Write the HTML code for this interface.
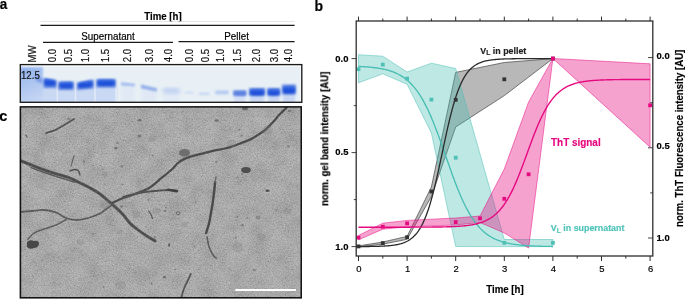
<!DOCTYPE html>
<html><head><meta charset="utf-8"><style>
html,body{margin:0;padding:0;background:#fff;}
body{width:685px;height:299px;overflow:hidden;font-family:"Liberation Sans", sans-serif;}
svg{display:block;will-change:transform;}
</style></head><body>
<svg width="685" height="299" viewBox="0 0 685 299" font-family='"Liberation Sans", sans-serif'><text transform="translate(-0.2,8.7) scale(0.95,1)" font-size="14.2" font-weight="bold" fill="#000" stroke="#000" stroke-width="0.18" text-anchor="start" >a</text>
<text transform="translate(163,19.6) scale(0.965,1)" font-size="10" font-weight="bold" fill="#000" stroke="#000" stroke-width="0.18" text-anchor="middle" >Time [h]</text>
<line x1="40.5" y1="21.4" x2="294.6" y2="21.4" stroke="#dcdcdc" stroke-width="0.8" />
<line x1="40.5" y1="25.3" x2="294.6" y2="25.3" stroke="#1a1a1a" stroke-width="1.3" />
<text transform="translate(108,39.7) scale(0.965,1)" font-size="10.2" font-weight="normal" fill="#000" stroke="#000" stroke-width="0.18" text-anchor="middle" >Supernatant</text>
<text transform="translate(236.6,40) scale(0.965,1)" font-size="10.2" font-weight="normal" fill="#000" stroke="#000" stroke-width="0.18" text-anchor="middle" >Pellet</text>
<line x1="43" y1="42.3" x2="173" y2="42.3" stroke="#1a1a1a" stroke-width="1.3" />
<line x1="178.5" y1="41.7" x2="294.6" y2="41.7" stroke="#1a1a1a" stroke-width="1.3" />
<text transform="translate(35.6,62.5) rotate(-90) scale(0.965,1)" font-size="10" font-weight="normal" fill="#111" stroke="#111" stroke-width="0.18" text-anchor="start" >MW</text>
<text transform="translate(56.0,62.2) rotate(-90) scale(0.965,1)" font-size="10" font-weight="normal" fill="#111" stroke="#111" stroke-width="0.18" text-anchor="start" >0.0</text>
<text transform="translate(71.8,62.2) rotate(-90) scale(0.965,1)" font-size="10" font-weight="normal" fill="#111" stroke="#111" stroke-width="0.18" text-anchor="start" >0.5</text>
<text transform="translate(89.3,62.2) rotate(-90) scale(0.965,1)" font-size="10" font-weight="normal" fill="#111" stroke="#111" stroke-width="0.18" text-anchor="start" >1.0</text>
<text transform="translate(109.19999999999999,62.2) rotate(-90) scale(0.965,1)" font-size="10" font-weight="normal" fill="#111" stroke="#111" stroke-width="0.18" text-anchor="start" >1.5</text>
<text transform="translate(130.8,62.2) rotate(-90) scale(0.965,1)" font-size="10" font-weight="normal" fill="#111" stroke="#111" stroke-width="0.18" text-anchor="start" >2.0</text>
<text transform="translate(152.79999999999998,62.2) rotate(-90) scale(0.965,1)" font-size="10" font-weight="normal" fill="#111" stroke="#111" stroke-width="0.18" text-anchor="start" >3.0</text>
<text transform="translate(172.0,62.2) rotate(-90) scale(0.965,1)" font-size="10" font-weight="normal" fill="#111" stroke="#111" stroke-width="0.18" text-anchor="start" >4.0</text>
<text transform="translate(192.6,62.2) rotate(-90) scale(0.965,1)" font-size="10" font-weight="normal" fill="#111" stroke="#111" stroke-width="0.18" text-anchor="start" >0.0</text>
<text transform="translate(209.4,62.2) rotate(-90) scale(0.965,1)" font-size="10" font-weight="normal" fill="#111" stroke="#111" stroke-width="0.18" text-anchor="start" >0.5</text>
<text transform="translate(224.4,62.2) rotate(-90) scale(0.965,1)" font-size="10" font-weight="normal" fill="#111" stroke="#111" stroke-width="0.18" text-anchor="start" >1.0</text>
<text transform="translate(241.2,62.2) rotate(-90) scale(0.965,1)" font-size="10" font-weight="normal" fill="#111" stroke="#111" stroke-width="0.18" text-anchor="start" >1.5</text>
<text transform="translate(259.8,62.2) rotate(-90) scale(0.965,1)" font-size="10" font-weight="normal" fill="#111" stroke="#111" stroke-width="0.18" text-anchor="start" >2.0</text>
<text transform="translate(278.0,62.2) rotate(-90) scale(0.965,1)" font-size="10" font-weight="normal" fill="#111" stroke="#111" stroke-width="0.18" text-anchor="start" >3.0</text>
<text transform="translate(291.8,62.2) rotate(-90) scale(0.965,1)" font-size="10" font-weight="normal" fill="#111" stroke="#111" stroke-width="0.18" text-anchor="start" >4.0</text>
<defs>
<filter id="blur1" x="-50%" y="-50%" width="200%" height="200%"><feGaussianBlur stdDeviation="1.2"/></filter>
<filter id="blur2" x="-50%" y="-50%" width="200%" height="200%"><feGaussianBlur stdDeviation="2"/></filter>
<filter id="blur05" x="-50%" y="-50%" width="200%" height="200%"><feGaussianBlur stdDeviation="0.6"/></filter>
<filter id="blur09" x="-50%" y="-50%" width="200%" height="200%"><feGaussianBlur stdDeviation="1.05"/></filter>
<clipPath id="gelclip"><rect x="20.5" y="65.5" width="280.3" height="36.5"/></clipPath>
<clipPath id="emclip"><rect x="21" y="107.5" width="279.5" height="190"/></clipPath>
<filter id="noise" x="0" y="0" width="100%" height="100%" filterUnits="objectBoundingBox"><feTurbulence type="fractalNoise" baseFrequency="0.75" numOctaves="2" seed="7" result="t"/><feColorMatrix in="t" type="matrix" values="1 0 0 0 0  1 0 0 0 0  1 0 0 0 0  0 0 0 0 1"/></filter>
<filter id="mottle" x="0" y="0" width="100%" height="100%" filterUnits="objectBoundingBox"><feTurbulence type="fractalNoise" baseFrequency="0.06" numOctaves="3" seed="11" result="t"/><feColorMatrix in="t" type="matrix" values="1 0 0 0 0  1 0 0 0 0  1 0 0 0 0  0 0 0 0 1"/></filter>
<filter id="fb" x="-20%" y="-20%" width="140%" height="140%"><feGaussianBlur stdDeviation="0.7"/></filter>
<linearGradient id="bandg" x1="0" y1="0" x2="0" y2="1"><stop offset="0" stop-color="#3f6fe2"/><stop offset="0.5" stop-color="#1c50dc"/><stop offset="1" stop-color="#1a49d2"/></linearGradient>
<linearGradient id="mwg" x1="0" y1="0" x2="0.3" y2="1"><stop offset="0" stop-color="#8eafec"/><stop offset="0.45" stop-color="#a9c2f0"/><stop offset="1" stop-color="#c4d5f3"/></linearGradient>
</defs>
<g clip-path="url(#gelclip)">
<rect x="20" y="64.5" width="282" height="38" fill="#fbfdfe"/><rect x="20" y="66.6" width="280.6" height="36" fill="#e8f0f5"/>
<rect x="18" y="83" width="99" height="22" fill="#c9d8f3" filter="url(#blur1)"/>
<rect x="18" y="67.2" width="25" height="37" fill="url(#mwg)" filter="url(#blur1)"/>
<path d="M34,74 L42,78 L43,84 L36,81 Z" fill="#7f9fe6" filter="url(#blur1)"/>
<rect x="56.5" y="80" width="1.6" height="25" fill="#e2eaf8" filter="url(#blur05)"/>
<rect x="74.7" y="80" width="1.6" height="25" fill="#e2eaf8" filter="url(#blur05)"/>
<rect x="94.2" y="80" width="1.6" height="25" fill="#e2eaf8" filter="url(#blur05)"/>
<rect x="115.2" y="80" width="1.6" height="25" fill="#e2eaf8" filter="url(#blur05)"/>
<rect x="121" y="87" width="13.599999999999994" height="17" fill="#e1e9f5" filter="url(#blur1)"/>
<rect x="141.4" y="91" width="15.0" height="13" fill="#e0e8f5" filter="url(#blur1)"/>
<rect x="163" y="93" width="16" height="11" fill="#e2eaf5" filter="url(#blur1)"/>
<rect x="234.2" y="95" width="11.200000000000017" height="9" fill="#d3def4" filter="url(#blur1)"/>
<rect x="250.1" y="95" width="13.900000000000006" height="9" fill="#c9d7f3" filter="url(#blur1)"/>
<rect x="268.2" y="95" width="11.100000000000023" height="9" fill="#c9d7f3" filter="url(#blur1)"/>
<rect x="282.9" y="93" width="12.100000000000023" height="11" fill="#c9d7f3" filter="url(#blur1)"/>
<path d="M43.5,78 L56.5,80 L56.5,88 L43.5,88 Z" fill="#5f84e0" opacity="1" filter="url(#blur1)"/>
<path d="M58.4,81.5 L73.6,81.5 L73.6,90 L58.4,90 Z" fill="#5f84e0" opacity="1" filter="url(#blur1)"/>
<path d="M77.1,82.5 L93.5,79.5 L93.5,88.5 L77.1,90 Z" fill="#5f84e0" opacity="1" filter="url(#blur1)"/>
<path d="M96.4,79 L115.7,79 L115.7,87.5 L96.4,87.5 Z" fill="#5f84e0" opacity="1" filter="url(#blur1)"/>
<path d="M47.3,78.88 L52.8,80.12 Q55.8,80.8 55.8,83.8 L55.8,82.6 Q55.8,85.6 52.8,85.60 L47.3,85.60 Q44.3,85.6 44.3,82.6 L44.3,81.2 Q44.3,78.2 47.3,78.88 Z" fill="url(#bandg)" opacity="1" filter="url(#blur09)"/>
<path d="M62.3,82.16 L69.8,82.04 Q72.8,82.0 72.8,85.0 L72.8,85.0 Q72.8,88.0 69.8,88.00 L62.3,88.00 Q59.3,88.0 59.3,85.0 L59.3,85.2 Q59.3,82.2 62.3,82.16 Z" fill="url(#bandg)" opacity="1" filter="url(#blur09)"/>
<path d="M81.0,82.59 L89.7,80.81 Q92.7,80.2 92.7,83.2 L92.7,83.6 Q92.7,86.6 89.7,86.89 L81.0,87.71 Q78.0,88.0 78.0,85.0 L78.0,86.2 Q78.0,83.2 81.0,82.59 Z" fill="url(#bandg)" opacity="1" filter="url(#blur09)"/>
<path d="M100.3,79.77 L111.9,79.63 Q114.9,79.6 114.9,82.6 L114.9,82.8 Q114.9,85.8 111.9,85.80 L100.3,85.80 Q97.3,85.8 97.3,82.8 L97.3,82.8 Q97.3,79.8 100.3,79.77 Z" fill="url(#bandg)" opacity="1" filter="url(#blur09)"/>
<path d="M121,82.3 L135,83.8 L135,86.5 L121,85.5 Z" fill="#a3bbee" opacity="1" filter="url(#blur1)"/>
<path d="M141,84.5 L157,88.3 L157,91.7 L141,88.5 Z" fill="#93afea" opacity="1" filter="url(#blur1)"/>
<path d="M163,88.5 L179.5,89 L179.5,93 L163,92.5 Z" fill="#b0c5f0" opacity="1" filter="url(#blur2)"/>
<path d="M185,91.5 L193.5,91.5 L193.5,93.8 L185,93.8 Z" fill="#cfdbf4" opacity="1" filter="url(#blur1)"/>
<path d="M199,92.5 L209.6,92.5 L209.6,95 L199,95 Z" fill="#c8d6f3" opacity="1" filter="url(#blur1)"/>
<path d="M215.3,90.5 L228.6,90.5 L228.6,94.3 L215.3,94.3 Z" fill="#b5c8f0" opacity="1" filter="url(#blur1)"/>
<path d="M233.2,90.3 L246.4,90.3 L246.4,95.8 L233.2,95.8 Z" fill="#6d8fe3" opacity="1" filter="url(#blur1)"/>
<path d="M249.1,88.1 L265,88.1 L265,95.8 L249.1,95.8 Z" fill="#5a80e0" opacity="1" filter="url(#blur1)"/>
<path d="M267.2,88.1 L280.3,88.1 L280.3,95.8 L267.2,95.8 Z" fill="#5a80e0" opacity="1" filter="url(#blur1)"/>
<path d="M281.9,84.5 L296,84.5 L296,94.5 L281.9,94.5 Z" fill="#6d8fe3" opacity="1" filter="url(#blur1)"/>
<path d="M253.0,89.30 L261.2,89.30 Q264.2,89.3 264.2,92.3 L264.2,92.2 Q264.2,95.2 261.2,95.20 L253.0,95.20 Q250.0,95.2 250.0,92.2 L250.0,92.3 Q250.0,89.3 253.0,89.30 Z" fill="url(#bandg)" opacity="1" filter="url(#blur09)"/>
<path d="M271.0,89.30 L276.5,89.30 Q279.5,89.3 279.5,92.3 L279.5,92.2 Q279.5,95.2 276.5,95.20 L271.0,95.20 Q268.0,95.2 268.0,92.2 L268.0,92.3 Q268.0,89.3 271.0,89.30 Z" fill="url(#bandg)" opacity="1" filter="url(#blur09)"/>
<path d="M285.8,86.23 L292.2,86.07 Q295.2,86.0 295.2,89.0 L295.2,90.5 Q295.2,93.5 292.2,93.50 L285.8,93.50 Q282.8,93.5 282.8,90.5 L282.8,89.3 Q282.8,86.3 285.8,86.23 Z" fill="url(#bandg)" opacity="1" filter="url(#blur09)"/>
<path d="M235.79999999999998,91.76 L244.0,91.54 Q245.6,91.5 245.6,93.1 L245.6,93.7 Q245.6,95.3 244.0,95.30 L235.79999999999998,95.30 Q234.2,95.3 234.2,93.7 L234.2,93.39999999999999 Q234.2,91.8 235.79999999999998,91.76 Z" fill="#5b80e0" opacity="1" filter="url(#blur09)"/>
</g>
<rect x="20.3" y="64.6" width="281.5" height="37.7" fill="none" stroke="#1a1a1a" stroke-width="1.35"/>
<text transform="translate(21,79.2) scale(0.965,1)" font-size="10" font-weight="normal" fill="#111" stroke="#111" stroke-width="0.18" text-anchor="start" >12.5</text>
<text transform="translate(-0.8,120.6) scale(1.0,1)" font-size="14.5" font-weight="bold" fill="#000" stroke="#000" stroke-width="0.18" text-anchor="start" >c</text>
<g clip-path="url(#emclip)">
<rect x="20" y="106" width="282" height="193" fill="#949494"/>
<rect x="20" y="106" width="282" height="193" filter="url(#mottle)" opacity="0.24"/>
<rect x="20" y="106" width="282" height="193" filter="url(#noise)" opacity="0.38"/>
<g filter="url(#fb)" fill="none" stroke-linecap="round" stroke-linejoin="round">
<path d="M46.00,133.00 C47.68,132.43 53.08,130.93 56.10,129.60 C59.12,128.27 61.10,126.77 64.10,125.00 C67.10,123.23 72.43,120.00 74.10,119.00" stroke="#5c5c5c" stroke-width="1.8" opacity="1"/>
<path d="M46.00,133.00 C47.68,132.43 53.08,130.93 56.10,129.60 C59.12,128.27 61.10,126.77 64.10,125.00 C67.10,123.23 72.43,120.00 74.10,119.00" stroke="#3a3a3a" stroke-width="0.81" stroke-dasharray="2.5 1.5 4 2 1.5 2.5" opacity="0.45"/>
<path d="M20.00,160.50 C21.67,161.17 26.67,163.17 30.00,164.50 C33.33,165.83 36.67,167.25 40.00,168.50 C43.33,169.75 46.65,170.92 50.00,172.00 C53.35,173.08 56.75,173.97 60.10,175.00 C63.45,176.03 66.77,176.87 70.10,178.20 C73.43,179.53 76.77,181.37 80.10,183.00 C83.43,184.63 86.78,186.17 90.10,188.00 C93.42,189.83 96.68,191.58 100.00,194.00 C103.32,196.42 107.22,200.10 110.00,202.50 C112.78,204.90 114.47,206.32 116.70,208.40 C118.93,210.48 121.17,212.50 123.40,215.00 C125.63,217.50 127.60,220.88 130.10,223.40 C132.60,225.92 135.62,228.00 138.40,230.10 C141.18,232.20 144.00,234.18 146.80,236.00 C149.60,237.82 153.80,240.17 155.20,241.00" stroke="#585858" stroke-width="3.0" opacity="1"/>
<path d="M20.00,160.50 C21.67,161.17 26.67,163.17 30.00,164.50 C33.33,165.83 36.67,167.25 40.00,168.50 C43.33,169.75 46.65,170.92 50.00,172.00 C53.35,173.08 56.75,173.97 60.10,175.00 C63.45,176.03 66.77,176.87 70.10,178.20 C73.43,179.53 76.77,181.37 80.10,183.00 C83.43,184.63 86.78,186.17 90.10,188.00 C93.42,189.83 96.68,191.58 100.00,194.00 C103.32,196.42 107.22,200.10 110.00,202.50 C112.78,204.90 114.47,206.32 116.70,208.40 C118.93,210.48 121.17,212.50 123.40,215.00 C125.63,217.50 127.60,220.88 130.10,223.40 C132.60,225.92 135.62,228.00 138.40,230.10 C141.18,232.20 144.00,234.18 146.80,236.00 C149.60,237.82 153.80,240.17 155.20,241.00" stroke="#3a3a3a" stroke-width="1.35" stroke-dasharray="2.5 1.5 4 2 1.5 2.5" opacity="0.45"/>
<path d="M31.00,167.50 C33.33,168.38 40.17,171.12 45.00,172.80 C49.83,174.48 55.00,176.00 60.00,177.60 C65.00,179.20 72.50,181.60 75.00,182.40" stroke="#606060" stroke-width="1.3" opacity="1"/>
<path d="M31.00,167.50 C33.33,168.38 40.17,171.12 45.00,172.80 C49.83,174.48 55.00,176.00 60.00,177.60 C65.00,179.20 72.50,181.60 75.00,182.40" stroke="#3a3a3a" stroke-width="0.80" stroke-dasharray="2.5 1.5 4 2 1.5 2.5" opacity="0.45"/>
<path d="M287.00,106.50 C286.70,106.92 286.52,107.58 285.20,109.00 C283.88,110.42 281.12,112.83 279.10,115.00 C277.08,117.17 275.27,119.65 273.10,122.00 C270.93,124.35 268.43,127.08 266.10,129.10 C263.77,131.12 261.60,132.43 259.10,134.10 C256.60,135.77 254.12,137.60 251.10,139.10 C248.08,140.60 244.02,141.93 241.00,143.10 C237.98,144.27 235.67,145.20 233.00,146.10 C230.33,147.00 227.82,147.83 225.00,148.50 C222.18,149.17 219.58,149.33 216.10,150.10 C212.62,150.87 208.10,152.10 204.10,153.10 C200.10,154.10 195.45,155.10 192.10,156.10 C188.75,157.10 186.35,157.95 184.00,159.10 C181.65,160.25 180.13,161.18 178.00,163.00 C175.87,164.82 174.35,167.17 171.20,170.00 C168.05,172.83 162.78,177.00 159.10,180.00 C155.42,183.00 153.10,185.67 149.10,188.00 C145.10,190.33 139.43,192.33 135.10,194.00 C130.77,195.67 126.95,196.50 123.10,198.00 C119.25,199.50 113.85,202.17 112.00,203.00" stroke="#525252" stroke-width="2.3" opacity="1"/>
<path d="M287.00,106.50 C286.70,106.92 286.52,107.58 285.20,109.00 C283.88,110.42 281.12,112.83 279.10,115.00 C277.08,117.17 275.27,119.65 273.10,122.00 C270.93,124.35 268.43,127.08 266.10,129.10 C263.77,131.12 261.60,132.43 259.10,134.10 C256.60,135.77 254.12,137.60 251.10,139.10 C248.08,140.60 244.02,141.93 241.00,143.10 C237.98,144.27 235.67,145.20 233.00,146.10 C230.33,147.00 227.82,147.83 225.00,148.50 C222.18,149.17 219.58,149.33 216.10,150.10 C212.62,150.87 208.10,152.10 204.10,153.10 C200.10,154.10 195.45,155.10 192.10,156.10 C188.75,157.10 186.35,157.95 184.00,159.10 C181.65,160.25 180.13,161.18 178.00,163.00 C175.87,164.82 174.35,167.17 171.20,170.00 C168.05,172.83 162.78,177.00 159.10,180.00 C155.42,183.00 153.10,185.67 149.10,188.00 C145.10,190.33 139.43,192.33 135.10,194.00 C130.77,195.67 126.95,196.50 123.10,198.00 C119.25,199.50 113.85,202.17 112.00,203.00" stroke="#3a3a3a" stroke-width="1.03" stroke-dasharray="2.5 1.5 4 2 1.5 2.5" opacity="0.45"/>
<path d="M123.10,197.00 C125.77,196.33 133.77,194.00 139.10,193.00 C144.43,192.00 149.95,191.50 155.10,191.00 C160.25,190.50 166.35,190.00 170.00,190.00 C173.65,190.00 175.83,190.83 177.00,191.00" stroke="#5a5a5a" stroke-width="2.0" opacity="1"/>
<path d="M123.10,197.00 C125.77,196.33 133.77,194.00 139.10,193.00 C144.43,192.00 149.95,191.50 155.10,191.00 C160.25,190.50 166.35,190.00 170.00,190.00 C173.65,190.00 175.83,190.83 177.00,191.00" stroke="#3a3a3a" stroke-width="0.90" stroke-dasharray="2.5 1.5 4 2 1.5 2.5" opacity="0.45"/>
<path d="M168.00,189.80 C169.50,190.02 175.50,190.88 177.00,191.10" stroke="#444" stroke-width="2.6" opacity="1"/>
<path d="M168.00,189.80 C169.50,190.02 175.50,190.88 177.00,191.10" stroke="#3a3a3a" stroke-width="1.17" stroke-dasharray="2.5 1.5 4 2 1.5 2.5" opacity="0.45"/>
<path d="M112.00,205.00 C110.83,205.83 107.00,208.58 105.00,210.00 C103.00,211.42 102.82,212.17 100.00,213.50 C97.18,214.83 92.08,216.92 88.10,218.00 C84.12,219.08 79.77,220.00 76.10,220.00 C72.43,220.00 69.43,219.25 66.10,218.00 C62.77,216.75 59.78,213.83 56.10,212.50 C52.42,211.17 48.02,210.25 44.00,210.00 C39.98,209.75 36.00,210.67 32.00,211.00 C28.00,211.33 22.00,211.83 20.00,212.00" stroke="#646464" stroke-width="1.8" opacity="1"/>
<path d="M112.00,205.00 C110.83,205.83 107.00,208.58 105.00,210.00 C103.00,211.42 102.82,212.17 100.00,213.50 C97.18,214.83 92.08,216.92 88.10,218.00 C84.12,219.08 79.77,220.00 76.10,220.00 C72.43,220.00 69.43,219.25 66.10,218.00 C62.77,216.75 59.78,213.83 56.10,212.50 C52.42,211.17 48.02,210.25 44.00,210.00 C39.98,209.75 36.00,210.67 32.00,211.00 C28.00,211.33 22.00,211.83 20.00,212.00" stroke="#3a3a3a" stroke-width="0.81" stroke-dasharray="2.5 1.5 4 2 1.5 2.5" opacity="0.45"/>
<path d="M66.10,219.50 C64.43,220.42 59.78,223.40 56.10,225.00 C52.42,226.60 47.68,227.75 44.00,229.10 C40.32,230.45 36.67,231.43 34.00,233.10 C31.33,234.77 29.00,238.10 28.00,239.10" stroke="#686868" stroke-width="1.6" opacity="1"/>
<path d="M66.10,219.50 C64.43,220.42 59.78,223.40 56.10,225.00 C52.42,226.60 47.68,227.75 44.00,229.10 C40.32,230.45 36.67,231.43 34.00,233.10 C31.33,234.77 29.00,238.10 28.00,239.10" stroke="#3a3a3a" stroke-width="0.80" stroke-dasharray="2.5 1.5 4 2 1.5 2.5" opacity="0.45"/>
<path d="M215.10,182.00 C214.93,183.68 214.53,188.42 214.10,192.10 C213.67,195.78 213.00,200.77 212.50,204.10 C212.00,207.43 211.67,208.95 211.10,212.10 C210.53,215.25 209.93,219.52 209.10,223.00 C208.27,226.48 206.60,231.33 206.10,233.00" stroke="#4e4e4e" stroke-width="2.4" opacity="1"/>
<path d="M215.10,182.00 C214.93,183.68 214.53,188.42 214.10,192.10 C213.67,195.78 213.00,200.77 212.50,204.10 C212.00,207.43 211.67,208.95 211.10,212.10 C210.53,215.25 209.93,219.52 209.10,223.00 C208.27,226.48 206.60,231.33 206.10,233.00" stroke="#3a3a3a" stroke-width="1.08" stroke-dasharray="2.5 1.5 4 2 1.5 2.5" opacity="0.45"/>
<path d="M207.10,237.00 C207.43,238.68 208.10,244.08 209.10,247.10 C210.10,250.12 211.93,253.27 213.10,255.10 C214.27,256.93 215.60,257.60 216.10,258.10" stroke="#666" stroke-width="1.6" opacity="1"/>
<path d="M207.10,237.00 C207.43,238.68 208.10,244.08 209.10,247.10 C210.10,250.12 211.93,253.27 213.10,255.10 C214.27,256.93 215.60,257.60 216.10,258.10" stroke="#3a3a3a" stroke-width="0.80" stroke-dasharray="2.5 1.5 4 2 1.5 2.5" opacity="0.45"/>
<path d="M216.00,177.00 C215.85,177.83 215.25,181.17 215.10,182.00" stroke="#777" stroke-width="1.4" opacity="1"/>
<path d="M216.00,177.00 C215.85,177.83 215.25,181.17 215.10,182.00" stroke="#3a3a3a" stroke-width="0.80" stroke-dasharray="2.5 1.5 4 2 1.5 2.5" opacity="0.45"/>
<path d="M181.60,297.00 C181.90,295.87 182.65,292.38 183.40,290.20 C184.15,288.02 185.18,285.87 186.10,283.90 C187.02,281.93 188.13,280.07 188.90,278.40 C189.67,276.73 190.40,274.65 190.70,273.90" stroke="#5a5a5a" stroke-width="1.8" opacity="1"/>
<path d="M181.60,297.00 C181.90,295.87 182.65,292.38 183.40,290.20 C184.15,288.02 185.18,285.87 186.10,283.90 C187.02,281.93 188.13,280.07 188.90,278.40 C189.67,276.73 190.40,274.65 190.70,273.90" stroke="#3a3a3a" stroke-width="0.81" stroke-dasharray="2.5 1.5 4 2 1.5 2.5" opacity="0.45"/>
<path d="M148.70,211.00 C149.08,211.58 150.37,213.25 151.00,214.50 C151.63,215.75 152.25,217.83 152.50,218.50" stroke="#6a6a6a" stroke-width="1.2" opacity="1"/>
<path d="M148.70,211.00 C149.08,211.58 150.37,213.25 151.00,214.50 C151.63,215.75 152.25,217.83 152.50,218.50" stroke="#3a3a3a" stroke-width="0.80" stroke-dasharray="2.5 1.5 4 2 1.5 2.5" opacity="0.45"/>
<path d="M74.00,156.00 C73.75,156.83 73.00,159.33 72.50,161.00 C72.00,162.67 71.25,165.17 71.00,166.00" stroke="#707070" stroke-width="1.1" opacity="1"/>
<path d="M74.00,156.00 C73.75,156.83 73.00,159.33 72.50,161.00 C72.00,162.67 71.25,165.17 71.00,166.00" stroke="#3a3a3a" stroke-width="0.80" stroke-dasharray="2.5 1.5 4 2 1.5 2.5" opacity="0.45"/>
<path d="M70.00,171.00 C70.83,170.75 73.58,169.50 75.00,169.50 C76.42,169.50 77.67,170.08 78.50,171.00 C79.33,171.92 79.75,174.33 80.00,175.00" stroke="#555" stroke-width="1.3" opacity="1"/>
<path d="M70.00,171.00 C70.83,170.75 73.58,169.50 75.00,169.50 C76.42,169.50 77.67,170.08 78.50,171.00 C79.33,171.92 79.75,174.33 80.00,175.00" stroke="#3a3a3a" stroke-width="0.80" stroke-dasharray="2.5 1.5 4 2 1.5 2.5" opacity="0.45"/>
<path d="M26.00,135.00 C26.17,135.33 26.83,136.67 27.00,137.00" stroke="#7a7a7a" stroke-width="1.5" opacity="1"/>
<path d="M26.00,135.00 C26.17,135.33 26.83,136.67 27.00,137.00" stroke="#3a3a3a" stroke-width="0.80" stroke-dasharray="2.5 1.5 4 2 1.5 2.5" opacity="0.45"/>
</g>
<g filter="url(#fb)">
<ellipse cx="194.4" cy="246.5" rx="0.94" ry="1.14" fill="rgb(128,128,128)" opacity="0.8"/>
<ellipse cx="151.6" cy="283.6" rx="0.91" ry="1.02" fill="rgb(105,105,105)" opacity="0.8"/>
<ellipse cx="152.6" cy="155.4" rx="0.76" ry="0.94" fill="rgb(110,110,110)" opacity="0.8"/>
<ellipse cx="84.0" cy="161.4" rx="1.14" ry="1.23" fill="rgb(119,119,119)" opacity="0.8"/>
<ellipse cx="241.8" cy="135.5" rx="0.90" ry="0.99" fill="rgb(103,103,103)" opacity="0.8"/>
<ellipse cx="289.5" cy="111.0" rx="1.68" ry="1.12" fill="rgb(105,105,105)" opacity="0.8"/>
<ellipse cx="103.7" cy="286.9" rx="0.88" ry="0.93" fill="rgb(108,108,108)" opacity="0.8"/>
<ellipse cx="288.4" cy="146.2" rx="1.32" ry="1.27" fill="rgb(119,119,119)" opacity="0.8"/>
<ellipse cx="123.2" cy="140.5" rx="0.66" ry="0.62" fill="rgb(99,99,99)" opacity="0.8"/>
<ellipse cx="247.3" cy="217.8" rx="0.83" ry="0.98" fill="rgb(116,116,116)" opacity="0.8"/>
<ellipse cx="121.7" cy="166.3" rx="1.25" ry="1.06" fill="rgb(106,106,106)" opacity="0.8"/>
<ellipse cx="216.7" cy="120.5" rx="2.00" ry="1.28" fill="rgb(96,96,96)" opacity="0.8"/>
<ellipse cx="122.3" cy="184.4" rx="1.03" ry="0.94" fill="rgb(121,121,121)" opacity="0.8"/>
<ellipse cx="182.4" cy="111.7" rx="0.70" ry="0.54" fill="rgb(106,106,106)" opacity="0.8"/>
<ellipse cx="284.6" cy="131.9" rx="0.75" ry="0.70" fill="rgb(124,124,124)" opacity="0.8"/>
<ellipse cx="121.5" cy="206.5" rx="1.43" ry="1.12" fill="rgb(101,101,101)" opacity="0.8"/>
<ellipse cx="237.4" cy="177.6" rx="1.15" ry="0.74" fill="rgb(122,122,122)" opacity="0.8"/>
<ellipse cx="49.8" cy="172.7" rx="1.06" ry="0.99" fill="rgb(104,104,104)" opacity="0.8"/>
<ellipse cx="276.4" cy="210.3" rx="0.78" ry="0.75" fill="rgb(115,115,115)" opacity="0.8"/>
<ellipse cx="242.3" cy="225.3" rx="1.72" ry="1.08" fill="rgb(114,114,114)" opacity="0.8"/>
<ellipse cx="68.9" cy="118.9" rx="1.98" ry="1.29" fill="rgb(129,129,129)" opacity="0.8"/>
<ellipse cx="33.7" cy="246.3" rx="0.90" ry="0.78" fill="rgb(111,111,111)" opacity="0.8"/>
<ellipse cx="139.7" cy="120.3" rx="1.78" ry="1.23" fill="rgb(97,97,97)" opacity="0.8"/>
<ellipse cx="115.9" cy="148.1" rx="1.68" ry="1.29" fill="rgb(103,103,103)" opacity="0.8"/>
<ellipse cx="239.3" cy="129.6" rx="0.72" ry="0.85" fill="rgb(104,104,104)" opacity="0.8"/>
<ellipse cx="139.4" cy="136.0" rx="1.96" ry="1.24" fill="rgb(105,105,105)" opacity="0.8"/>
<ellipse cx="148.4" cy="199.8" rx="1.10" ry="1.08" fill="rgb(125,125,125)" opacity="0.8"/>
<ellipse cx="152.9" cy="275.9" rx="0.93" ry="0.59" fill="rgb(129,129,129)" opacity="0.8"/>
<ellipse cx="195.5" cy="201.9" rx="0.92" ry="0.77" fill="rgb(100,100,100)" opacity="0.8"/>
<ellipse cx="165.1" cy="210.9" rx="1.29" ry="0.90" fill="rgb(99,99,99)" opacity="0.8"/>
<ellipse cx="235.8" cy="237.8" rx="1.12" ry="1.03" fill="rgb(114,114,114)" opacity="0.8"/>
<ellipse cx="216.6" cy="161.7" rx="1.39" ry="0.89" fill="rgb(113,113,113)" opacity="0.8"/>
<ellipse cx="117.5" cy="142.9" rx="1.46" ry="1.18" fill="rgb(125,125,125)" opacity="0.8"/>
<ellipse cx="93.2" cy="233.6" rx="1.15" ry="0.87" fill="rgb(127,127,127)" opacity="0.8"/>
<ellipse cx="242.0" cy="174.0" rx="1.10" ry="1.02" fill="rgb(121,121,121)" opacity="0.8"/>
<ellipse cx="254.3" cy="270.1" rx="1.64" ry="1.05" fill="rgb(118,118,118)" opacity="0.8"/>
<ellipse cx="165.9" cy="207.4" rx="0.98" ry="0.63" fill="rgb(118,118,118)" opacity="0.8"/>
<ellipse cx="154.8" cy="237.2" rx="1.01" ry="1.08" fill="rgb(121,121,121)" opacity="0.8"/>
<ellipse cx="237.3" cy="216.9" rx="1.08" ry="1.03" fill="rgb(121,121,121)" opacity="0.8"/>
<ellipse cx="175.5" cy="269.6" rx="0.69" ry="0.72" fill="rgb(96,96,96)" opacity="0.8"/>
<ellipse cx="184.5" cy="224.8" rx="3.19" ry="2.45" fill="#7e7e7e" opacity="0.28"/>
<ellipse cx="231.4" cy="143.2" rx="4.94" ry="3.80" fill="#7e7e7e" opacity="0.28"/>
<ellipse cx="293.3" cy="290.3" rx="3.14" ry="2.41" fill="#7e7e7e" opacity="0.28"/>
<ellipse cx="267.6" cy="130.4" rx="5.75" ry="4.42" fill="#7e7e7e" opacity="0.28"/>
<ellipse cx="156.3" cy="210.9" rx="3.95" ry="3.04" fill="#7e7e7e" opacity="0.28"/>
<ellipse cx="120.5" cy="231.9" rx="2.83" ry="2.18" fill="#7e7e7e" opacity="0.28"/>
<ellipse cx="80.6" cy="242.1" rx="3.82" ry="2.94" fill="#7e7e7e" opacity="0.28"/>
<ellipse cx="120.3" cy="285.2" rx="5.38" ry="4.14" fill="#7e7e7e" opacity="0.28"/>
<ellipse cx="260.7" cy="236.7" rx="4.38" ry="3.37" fill="#7e7e7e" opacity="0.28"/>
<ellipse cx="287.3" cy="211.2" rx="3.58" ry="2.75" fill="#7e7e7e" opacity="0.28"/>
<ellipse cx="105.3" cy="204.3" rx="5.69" ry="4.38" fill="#7e7e7e" opacity="0.28"/>
<ellipse cx="104.7" cy="174.7" rx="3.02" ry="2.32" fill="#7e7e7e" opacity="0.28"/>
<ellipse cx="136.3" cy="213.8" rx="4.35" ry="3.35" fill="#7e7e7e" opacity="0.28"/>
<ellipse cx="152.2" cy="138.8" rx="3.84" ry="2.96" fill="#7e7e7e" opacity="0.28"/>
<ellipse cx="184.5" cy="152.8" rx="5.5" ry="3.8" fill="#6e6e6e"/>
<ellipse cx="246" cy="170" rx="4.8" ry="3.1" fill="#4f4f4f"/>
<path d="M27,242 Q30,239 34,241 Q39,240 39,244 Q38,248 34,248 Q30,250 27,247 Z" fill="#474747"/>
<ellipse cx="267.5" cy="190.7" rx="2.2" ry="1.3" fill="#555"/>
<circle cx="178" cy="213.2" r="1.6" fill="none" stroke="#666" stroke-width="0.9"/>
<ellipse cx="245" cy="108.5" rx="3" ry="1.8" fill="#6a6a6a"/>
<ellipse cx="169.1" cy="245.1" rx="1" ry="1.8" fill="#5a5a5a"/>
<ellipse cx="164.5" cy="277" rx="1.8" ry="1" fill="#6a6a6a"/>
<ellipse cx="258" cy="217.5" rx="2.5" ry="2" fill="#8a8a8a"/>
<ellipse cx="40" cy="186" rx="4" ry="3" fill="#9c9c9c" opacity="0.6"/>
<ellipse cx="238" cy="247" rx="5" ry="6" fill="#8c8c8c" opacity="0.35"/>
</g>
</g>
<rect x="20.4" y="106.9" width="280.8" height="190.9" fill="none" stroke="#141414" stroke-width="1.6"/>
<line x1="235.3" y1="290" x2="296" y2="290" stroke="#fff" stroke-width="2"/>
<text transform="translate(314.6,11.3) scale(1.0,1)" font-size="14" font-weight="bold" fill="#000" stroke="#000" stroke-width="0.18" text-anchor="start" >b</text>
<polygon points="358.50,245.90 382.80,242.00 407.10,236.40 431.40,187.00 455.70,72.40 504.30,62.50 552.90,58.60 552.90,58.60 504.30,95.60 455.70,127.00 431.40,196.50 407.10,239.30 382.80,244.20 358.50,247.00" fill="#b8b8b8" stroke="#444" stroke-width="0.7" fill-opacity="1" />
<polygon points="358.50,54.70 382.80,56.20 407.10,72.00 431.40,63.20 455.70,68.50 504.30,239.50 552.90,239.50 552.90,246.60 504.30,246.60 455.70,246.50 431.40,133.00 407.10,84.30 382.80,73.80 358.50,82.80" fill="#46bdb2" stroke="#46bdb2" stroke-width="0.5" fill-opacity="0.35" />
<polygon points="358.50,235.50 382.80,223.20 407.10,220.40 455.70,218.00 480.00,216.00 504.30,169.00 528.60,102.00 552.90,58.50 650.10,63.80 650.10,147.20 552.90,58.50 528.60,248.00 504.30,233.00 480.00,222.50 455.70,225.00 407.10,226.80 382.80,229.20 358.50,239.80" fill="#e60a80" stroke="#e60a80" stroke-width="0.5" fill-opacity="0.38" />
<polyline points="358.50,66.42 359.47,66.46 360.44,66.51 361.42,66.56 362.39,66.62 363.36,66.67 364.33,66.74 365.30,66.80 366.28,66.87 367.25,66.95 368.22,67.02 369.19,67.11 370.16,67.20 371.14,67.29 372.11,67.39 373.08,67.50 374.05,67.61 375.02,67.73 376.00,67.86 376.97,67.99 377.94,68.13 378.91,68.29 379.88,68.45 380.86,68.62 381.83,68.80 382.80,69.00 383.77,69.20 384.74,69.42 385.72,69.65 386.69,69.89 387.66,70.15 388.63,70.43 389.60,70.72 390.58,71.03 391.55,71.36 392.52,71.70 393.49,72.07 394.46,72.46 395.44,72.87 396.41,73.31 397.38,73.77 398.35,74.26 399.32,74.77 400.30,75.32 401.27,75.90 402.24,76.51 403.21,77.15 404.18,77.83 405.16,78.54 406.13,79.29 407.10,80.09 408.07,80.93 409.04,81.81 410.02,82.73 410.99,83.70 411.96,84.73 412.93,85.80 413.90,86.93 414.88,88.11 415.85,89.34 416.82,90.64 417.79,91.99 418.76,93.40 419.74,94.88 420.71,96.42 421.68,98.02 422.65,99.68 423.62,101.42 424.60,103.21 425.57,105.08 426.54,107.01 427.51,109.00 428.48,111.06 429.46,113.18 430.43,115.37 431.40,117.62 432.37,119.93 433.34,122.29 434.32,124.71 435.29,127.19 436.26,129.71 437.23,132.28 438.20,134.89 439.18,137.54 440.15,140.22 441.12,142.93 442.09,145.67 443.06,148.42 444.04,151.19 445.01,153.97 445.98,156.76 446.95,159.54 447.92,162.32 448.90,165.08 449.87,167.83 450.84,170.56 451.81,173.26 452.78,175.93 453.76,178.56 454.73,181.16 455.70,183.71 456.67,186.21 457.64,188.66 458.62,191.06 459.59,193.40 460.56,195.69 461.53,197.91 462.50,200.07 463.48,202.17 464.45,204.21 465.42,206.17 466.39,208.08 467.36,209.91 468.34,211.68 469.31,213.39 470.28,215.03 471.25,216.61 472.22,218.12 473.20,219.57 474.17,220.96 475.14,222.29 476.11,223.56 477.08,224.77 478.06,225.93 479.03,227.03 480.00,228.09 480.97,229.09 481.94,230.04 482.92,230.95 483.89,231.81 484.86,232.63 485.83,233.41 486.80,234.15 487.78,234.85 488.75,235.51 489.72,236.14 490.69,236.74 491.66,237.30 492.64,237.83 493.61,238.34 494.58,238.82 495.55,239.27 496.52,239.69 497.50,240.10 498.47,240.48 499.44,240.84 500.41,241.18 501.38,241.50 502.36,241.80 503.33,242.08 504.30,242.35 505.27,242.61 506.24,242.85 507.22,243.07 508.19,243.28 509.16,243.48 510.13,243.67 511.10,243.85 512.08,244.02 513.05,244.18 514.02,244.32 514.99,244.46 515.96,244.60 516.94,244.72 517.91,244.84 518.88,244.95 519.85,245.05 520.82,245.15 521.80,245.24 522.77,245.33 523.74,245.41 524.71,245.48 525.68,245.56 526.66,245.62 527.63,245.69 528.60,245.75 529.57,245.81 530.54,245.86 531.52,245.91 532.49,245.96 533.46,246.00 534.43,246.04 535.40,246.08 536.38,246.12 537.35,246.15 538.32,246.18 539.29,246.22 540.26,246.24 541.24,246.27 542.21,246.30 543.18,246.32 544.15,246.34 545.12,246.36 546.10,246.38 547.07,246.40 548.04,246.42 549.01,246.44 549.98,246.45 550.96,246.47 551.93,246.48 552.90,246.49" fill="none" stroke="#46bdb2" stroke-width="1.3" stroke-linejoin="round" />
<polyline points="358.50,246.56 359.47,246.55 360.44,246.55 361.42,246.54 362.39,246.54 363.36,246.53 364.33,246.52 365.30,246.52 366.28,246.51 367.25,246.50 368.22,246.49 369.19,246.48 370.16,246.47 371.14,246.45 372.11,246.44 373.08,246.42 374.05,246.40 375.02,246.38 376.00,246.36 376.97,246.33 377.94,246.31 378.91,246.28 379.88,246.24 380.86,246.21 381.83,246.17 382.80,246.12 383.77,246.07 384.74,246.02 385.72,245.96 386.69,245.89 387.66,245.82 388.63,245.74 389.60,245.65 390.58,245.56 391.55,245.45 392.52,245.34 393.49,245.21 394.46,245.07 395.44,244.91 396.41,244.74 397.38,244.55 398.35,244.34 399.32,244.11 400.30,243.86 401.27,243.59 402.24,243.28 403.21,242.95 404.18,242.58 405.16,242.18 406.13,241.74 407.10,241.26 408.07,240.73 409.04,240.14 410.02,239.51 410.99,238.81 411.96,238.05 412.93,237.22 413.90,236.31 414.88,235.32 415.85,234.24 416.82,233.06 417.79,231.78 418.76,230.39 419.74,228.89 420.71,227.26 421.68,225.50 422.65,223.61 423.62,221.56 424.60,219.37 425.57,217.02 426.54,214.50 427.51,211.82 428.48,208.97 429.46,205.95 430.43,202.76 431.40,199.39 432.37,195.86 433.34,192.16 434.32,188.32 435.29,184.32 436.26,180.19 437.23,175.95 438.20,171.59 439.18,167.16 440.15,162.65 441.12,158.10 442.09,153.52 443.06,148.93 444.04,144.37 445.01,139.84 445.98,135.37 446.95,130.98 447.92,126.69 448.90,122.51 449.87,118.47 450.84,114.56 451.81,110.80 452.78,107.20 453.76,103.77 454.73,100.51 455.70,97.42 456.67,94.50 457.64,91.75 458.62,89.17 459.59,86.75 460.56,84.50 461.53,82.39 462.50,80.44 463.48,78.63 464.45,76.95 465.42,75.39 466.39,73.96 467.36,72.64 468.34,71.42 469.31,70.30 470.28,69.28 471.25,68.34 472.22,67.47 473.20,66.69 474.17,65.96 475.14,65.30 476.11,64.70 477.08,64.15 478.06,63.65 479.03,63.19 480.00,62.77 480.97,62.39 481.94,62.05 482.92,61.73 483.89,61.45 484.86,61.18 485.83,60.95 486.80,60.73 487.78,60.54 488.75,60.36 489.72,60.20 490.69,60.05 491.66,59.91 492.64,59.79 493.61,59.68 494.58,59.58 495.55,59.49 496.52,59.41 497.50,59.33 498.47,59.27 499.44,59.20 500.41,59.15 501.38,59.10 502.36,59.05 503.33,59.01 504.30,58.97 505.27,58.94 506.24,58.91 507.22,58.88 508.19,58.85 509.16,58.83 510.13,58.81 511.10,58.79 512.08,58.77 513.05,58.75 514.02,58.74 514.99,58.73 515.96,58.72 516.94,58.70 517.91,58.69 518.88,58.69 519.85,58.68 520.82,58.67 521.80,58.66 522.77,58.66 523.74,58.65 524.71,58.65 525.68,58.64 526.66,58.64 527.63,58.64 528.60,58.63 529.57,58.63 530.54,58.63 531.52,58.62 532.49,58.62 533.46,58.62 534.43,58.62 535.40,58.62 536.38,58.61 537.35,58.61 538.32,58.61 539.29,58.61 540.26,58.61 541.24,58.61 542.21,58.61 543.18,58.61 544.15,58.61 545.12,58.61 546.10,58.61 547.07,58.61 548.04,58.60 549.01,58.60 549.98,58.60 550.96,58.60 551.93,58.60 552.90,58.60" fill="none" stroke="#2a2a2a" stroke-width="1.3" stroke-linejoin="round" />
<polyline points="358.50,227.20 359.47,227.20 360.44,227.20 361.42,227.20 362.39,227.20 363.36,227.20 364.33,227.20 365.30,227.20 366.28,227.20 367.25,227.20 368.22,227.20 369.19,227.20 370.16,227.20 371.14,227.20 372.11,227.20 373.08,227.20 374.05,227.20 375.02,227.20 376.00,227.20 376.97,227.20 377.94,227.20 378.91,227.20 379.88,227.20 380.86,227.20 381.83,227.20 382.80,227.20 383.77,227.20 384.74,227.20 385.72,227.20 386.69,227.20 387.66,227.20 388.63,227.20 389.60,227.19 390.58,227.19 391.55,227.19 392.52,227.19 393.49,227.19 394.46,227.19 395.44,227.19 396.41,227.19 397.38,227.19 398.35,227.19 399.32,227.19 400.30,227.19 401.27,227.19 402.24,227.19 403.21,227.19 404.18,227.18 405.16,227.18 406.13,227.18 407.10,227.18 408.07,227.18 409.04,227.18 410.02,227.18 410.99,227.17 411.96,227.17 412.93,227.17 413.90,227.17 414.88,227.17 415.85,227.16 416.82,227.16 417.79,227.16 418.76,227.15 419.74,227.15 420.71,227.15 421.68,227.14 422.65,227.14 423.62,227.13 424.60,227.13 425.57,227.12 426.54,227.12 427.51,227.11 428.48,227.10 429.46,227.10 430.43,227.09 431.40,227.08 432.37,227.07 433.34,227.06 434.32,227.05 435.29,227.04 436.26,227.03 437.23,227.02 438.20,227.00 439.18,226.99 440.15,226.97 441.12,226.96 442.09,226.94 443.06,226.92 444.04,226.90 445.01,226.87 445.98,226.85 446.95,226.82 447.92,226.79 448.90,226.76 449.87,226.73 450.84,226.70 451.81,226.66 452.78,226.62 453.76,226.57 454.73,226.53 455.70,226.48 456.67,226.42 457.64,226.37 458.62,226.30 459.59,226.24 460.56,226.17 461.53,226.09 462.50,226.01 463.48,225.92 464.45,225.82 465.42,225.72 466.39,225.61 467.36,225.49 468.34,225.37 469.31,225.23 470.28,225.08 471.25,224.93 472.22,224.76 473.20,224.58 474.17,224.39 475.14,224.18 476.11,223.96 477.08,223.72 478.06,223.47 479.03,223.19 480.00,222.90 480.97,222.59 481.94,222.26 482.92,221.90 483.89,221.52 484.86,221.11 485.83,220.67 486.80,220.20 487.78,219.71 488.75,219.17 489.72,218.61 490.69,218.00 491.66,217.36 492.64,216.67 493.61,215.94 494.58,215.17 495.55,214.34 496.52,213.47 497.50,212.54 498.47,211.56 499.44,210.52 500.41,209.42 501.38,208.25 502.36,207.03 503.33,205.73 504.30,204.37 505.27,202.94 506.24,201.44 507.22,199.86 508.19,198.21 509.16,196.49 510.13,194.69 511.10,192.82 512.08,190.88 513.05,188.86 514.02,186.77 514.99,184.61 515.96,182.39 516.94,180.10 517.91,177.75 518.88,175.34 519.85,172.88 520.82,170.37 521.80,167.82 522.77,165.23 523.74,162.62 524.71,159.98 525.68,157.32 526.66,154.65 527.63,151.98 528.60,149.31 529.57,146.65 530.54,144.01 531.52,141.40 532.49,138.81 533.46,136.26 534.43,133.75 535.40,131.29 536.38,128.88 537.35,126.53 538.32,124.24 539.29,122.02 540.26,119.86 541.24,117.77 542.21,115.75 543.18,113.81 544.15,111.94 545.12,110.14 546.10,108.42 547.07,106.77 548.04,105.19 549.01,103.69 549.98,102.26 550.96,100.90 551.93,99.60 552.90,98.38 553.87,97.21 554.84,96.11 555.82,95.07 556.79,94.09 557.76,93.16 558.73,92.29 559.70,91.46 560.68,90.69 561.65,89.96 562.62,89.27 563.59,88.63 564.56,88.02 565.54,87.46 566.51,86.92 567.48,86.43 568.45,85.96 569.42,85.52 570.40,85.11 571.37,84.73 572.34,84.37 573.31,84.04 574.28,83.73 575.26,83.44 576.23,83.16 577.20,82.91 578.17,82.67 579.14,82.45 580.12,82.24 581.09,82.05 582.06,81.87 583.03,81.70 584.00,81.55 584.98,81.40 585.95,81.26 586.92,81.14 587.89,81.02 588.86,80.91 589.84,80.81 590.81,80.71 591.78,80.62 592.75,80.54 593.72,80.46 594.70,80.39 595.67,80.33 596.64,80.26 597.61,80.21 598.58,80.15 599.56,80.10 600.53,80.06 601.50,80.01 602.47,79.97 603.44,79.93 604.42,79.90 605.39,79.87 606.36,79.84 607.33,79.81 608.30,79.78 609.28,79.76 610.25,79.73 611.22,79.71 612.19,79.69 613.16,79.67 614.14,79.66 615.11,79.64 616.08,79.63 617.05,79.61 618.02,79.60 619.00,79.59 619.97,79.58 620.94,79.57 621.91,79.56 622.88,79.55 623.86,79.54 624.83,79.53 625.80,79.53 626.77,79.52 627.74,79.51 628.72,79.51 629.69,79.50 630.66,79.50 631.63,79.49 632.60,79.49 633.58,79.48 634.55,79.48 635.52,79.48 636.49,79.47 637.46,79.47 638.44,79.47 639.41,79.46 640.38,79.46 641.35,79.46 642.32,79.46 643.30,79.46 644.27,79.45 645.24,79.45 646.21,79.45 647.18,79.45 648.16,79.45 649.13,79.45 650.10,79.45" fill="none" stroke="#e60a80" stroke-width="1.4" stroke-linejoin="round" />
<rect x="356.60" y="67.30" width="3.8" height="3.8" fill="#4fc0b6"/>
<rect x="380.90" y="62.70" width="3.8" height="3.8" fill="#4fc0b6"/>
<rect x="405.20" y="76.70" width="3.8" height="3.8" fill="#4fc0b6"/>
<rect x="429.50" y="97.70" width="3.8" height="3.8" fill="#4fc0b6"/>
<rect x="453.80" y="155.80" width="3.8" height="3.8" fill="#4fc0b6"/>
<rect x="502.40" y="240.90" width="3.8" height="3.8" fill="#4fc0b6"/>
<rect x="551.00" y="240.90" width="3.8" height="3.8" fill="#4fc0b6"/>
<rect x="356.60" y="244.50" width="3.8" height="3.8" fill="#333"/>
<rect x="380.90" y="241.20" width="3.8" height="3.8" fill="#333"/>
<rect x="405.20" y="235.30" width="3.8" height="3.8" fill="#333"/>
<rect x="429.50" y="189.60" width="3.8" height="3.8" fill="#333"/>
<rect x="453.80" y="97.90" width="3.8" height="3.8" fill="#333"/>
<rect x="502.40" y="77.40" width="3.8" height="3.8" fill="#333"/>
<rect x="551.00" y="56.70" width="3.8" height="3.8" fill="#333"/>
<rect x="356.60" y="235.70" width="3.8" height="3.8" fill="#e60a80"/>
<rect x="380.90" y="224.80" width="3.8" height="3.8" fill="#e60a80"/>
<rect x="405.20" y="221.50" width="3.8" height="3.8" fill="#e60a80"/>
<rect x="453.80" y="220.20" width="3.8" height="3.8" fill="#e60a80"/>
<rect x="478.10" y="216.40" width="3.8" height="3.8" fill="#e60a80"/>
<rect x="502.40" y="196.90" width="3.8" height="3.8" fill="#e60a80"/>
<rect x="526.70" y="172.40" width="3.8" height="3.8" fill="#e60a80"/>
<rect x="551.00" y="56.60" width="3.8" height="3.8" fill="#e60a80"/>
<rect x="648.20" y="103.40" width="3.8" height="3.8" fill="#e60a80"/>
<rect x="356.2" y="21" width="296.6" height="235" fill="none" stroke="#2e2e2e" stroke-width="1.3"/>
<line x1="358.5" y1="21" x2="358.5" y2="16.6" stroke="#2e2e2e" stroke-width="1.0" />
<line x1="358.5" y1="256" x2="358.5" y2="261.0" stroke="#2e2e2e" stroke-width="1.0" />
<line x1="382.8" y1="21" x2="382.8" y2="18.6" stroke="#2e2e2e" stroke-width="1.0" />
<line x1="382.8" y1="256" x2="382.8" y2="258.6" stroke="#2e2e2e" stroke-width="1.0" />
<line x1="407.1" y1="21" x2="407.1" y2="16.6" stroke="#2e2e2e" stroke-width="1.0" />
<line x1="407.1" y1="256" x2="407.1" y2="261.0" stroke="#2e2e2e" stroke-width="1.0" />
<line x1="431.4" y1="21" x2="431.4" y2="18.6" stroke="#2e2e2e" stroke-width="1.0" />
<line x1="431.4" y1="256" x2="431.4" y2="258.6" stroke="#2e2e2e" stroke-width="1.0" />
<line x1="455.7" y1="21" x2="455.7" y2="16.6" stroke="#2e2e2e" stroke-width="1.0" />
<line x1="455.7" y1="256" x2="455.7" y2="261.0" stroke="#2e2e2e" stroke-width="1.0" />
<line x1="480.0" y1="21" x2="480.0" y2="18.6" stroke="#2e2e2e" stroke-width="1.0" />
<line x1="480.0" y1="256" x2="480.0" y2="258.6" stroke="#2e2e2e" stroke-width="1.0" />
<line x1="504.3" y1="21" x2="504.3" y2="16.6" stroke="#2e2e2e" stroke-width="1.0" />
<line x1="504.3" y1="256" x2="504.3" y2="261.0" stroke="#2e2e2e" stroke-width="1.0" />
<line x1="528.6" y1="21" x2="528.6" y2="18.6" stroke="#2e2e2e" stroke-width="1.0" />
<line x1="528.6" y1="256" x2="528.6" y2="258.6" stroke="#2e2e2e" stroke-width="1.0" />
<line x1="552.9" y1="21" x2="552.9" y2="16.6" stroke="#2e2e2e" stroke-width="1.0" />
<line x1="552.9" y1="256" x2="552.9" y2="261.0" stroke="#2e2e2e" stroke-width="1.0" />
<line x1="577.2" y1="21" x2="577.2" y2="18.6" stroke="#2e2e2e" stroke-width="1.0" />
<line x1="577.2" y1="256" x2="577.2" y2="258.6" stroke="#2e2e2e" stroke-width="1.0" />
<line x1="601.5" y1="21" x2="601.5" y2="16.6" stroke="#2e2e2e" stroke-width="1.0" />
<line x1="601.5" y1="256" x2="601.5" y2="261.0" stroke="#2e2e2e" stroke-width="1.0" />
<line x1="625.8" y1="21" x2="625.8" y2="18.6" stroke="#2e2e2e" stroke-width="1.0" />
<line x1="625.8" y1="256" x2="625.8" y2="258.6" stroke="#2e2e2e" stroke-width="1.0" />
<line x1="650.1" y1="21" x2="650.1" y2="16.6" stroke="#2e2e2e" stroke-width="1.0" />
<line x1="650.1" y1="256" x2="650.1" y2="261.0" stroke="#2e2e2e" stroke-width="1.0" />
<line x1="351.5" y1="58.6" x2="356.4" y2="58.6" stroke="#2e2e2e" stroke-width="0.9" />
<line x1="648" y1="57.6" x2="652.8" y2="57.6" stroke="#2e2e2e" stroke-width="0.9" />
<line x1="351.5" y1="152.6" x2="356.4" y2="152.6" stroke="#2e2e2e" stroke-width="0.9" />
<line x1="648" y1="147.8" x2="652.8" y2="147.8" stroke="#2e2e2e" stroke-width="0.9" />
<line x1="351.5" y1="246.6" x2="356.4" y2="246.6" stroke="#2e2e2e" stroke-width="0.9" />
<line x1="648" y1="238.0" x2="652.8" y2="238.0" stroke="#2e2e2e" stroke-width="0.9" />
<line x1="353.8" y1="105.6" x2="356.4" y2="105.6" stroke="#2e2e2e" stroke-width="0.9" />
<line x1="650.2" y1="102.7" x2="652.8" y2="102.7" stroke="#2e2e2e" stroke-width="0.9" />
<line x1="353.8" y1="199.6" x2="356.4" y2="199.6" stroke="#2e2e2e" stroke-width="0.9" />
<line x1="650.2" y1="192.9" x2="652.8" y2="192.9" stroke="#2e2e2e" stroke-width="0.9" />
<text transform="translate(348.4,62.4) scale(0.965,1)" font-size="9.8" font-weight="bold" fill="#000" stroke="#000" stroke-width="0.18" text-anchor="end" >0.0</text>
<text transform="translate(656.6,58.5) scale(0.965,1)" font-size="9.8" font-weight="bold" fill="#000" stroke="#000" stroke-width="0.18" text-anchor="start" >0.0</text>
<text transform="translate(348.4,154.6) scale(0.965,1)" font-size="9.8" font-weight="bold" fill="#000" stroke="#000" stroke-width="0.18" text-anchor="end" >0.5</text>
<text transform="translate(656.6,149.4) scale(0.965,1)" font-size="9.8" font-weight="bold" fill="#000" stroke="#000" stroke-width="0.18" text-anchor="start" >0.5</text>
<text transform="translate(348.4,249.9) scale(0.965,1)" font-size="9.8" font-weight="bold" fill="#000" stroke="#000" stroke-width="0.18" text-anchor="end" >1.0</text>
<text transform="translate(656.6,241) scale(0.965,1)" font-size="9.8" font-weight="bold" fill="#000" stroke="#000" stroke-width="0.18" text-anchor="start" >1.0</text>
<text transform="translate(358.9,272) scale(0.965,1)" font-size="9.8" font-weight="normal" fill="#000" stroke="#000" stroke-width="0.18" text-anchor="middle" >0</text>
<text transform="translate(407.5,272) scale(0.965,1)" font-size="9.8" font-weight="normal" fill="#000" stroke="#000" stroke-width="0.18" text-anchor="middle" >1</text>
<text transform="translate(456.09999999999997,272) scale(0.965,1)" font-size="9.8" font-weight="normal" fill="#000" stroke="#000" stroke-width="0.18" text-anchor="middle" >2</text>
<text transform="translate(504.7,272) scale(0.965,1)" font-size="9.8" font-weight="normal" fill="#000" stroke="#000" stroke-width="0.18" text-anchor="middle" >3</text>
<text transform="translate(553.3,272) scale(0.965,1)" font-size="9.8" font-weight="normal" fill="#000" stroke="#000" stroke-width="0.18" text-anchor="middle" >4</text>
<text transform="translate(601.9,272) scale(0.965,1)" font-size="9.8" font-weight="normal" fill="#000" stroke="#000" stroke-width="0.18" text-anchor="middle" >5</text>
<text transform="translate(650.5,272) scale(0.965,1)" font-size="9.8" font-weight="normal" fill="#000" stroke="#000" stroke-width="0.18" text-anchor="middle" >6</text>
<text transform="translate(505,292.6) scale(0.965,1)" font-size="10" font-weight="bold" fill="#000" stroke="#000" stroke-width="0.18" text-anchor="middle" >Time [h]</text>
<text transform="translate(328.3,206) rotate(-90) scale(0.965,1)" font-size="10" font-weight="bold" fill="#000" stroke="#000" stroke-width="0.18" text-anchor="start" >norm. gel band intensity [AU]</text>
<text transform="translate(683.3,226.9) rotate(-90) scale(0.965,1)" font-size="10" font-weight="bold" fill="#000" stroke="#000" stroke-width="0.18" text-anchor="start" >norm. ThT Fluorescence intensity [AU]</text>
<text transform="translate(480.3,53.6) scale(0.965,1)" font-size="9.2" font-weight="bold" fill="#222" stroke="#222" stroke-width="0.18" text-anchor="start" >V<tspan font-size="7" dy="1.3">L</tspan><tspan dy="-1.3"> in pellet</tspan></text>
<text transform="translate(551,145.8) scale(0.965,1)" font-size="10.3" font-weight="bold" fill="#e60a80" stroke="#e60a80" stroke-width="0.18" text-anchor="start" >ThT signal</text>
<text transform="translate(550.8,231.4) scale(0.965,1)" font-size="9.2" font-weight="bold" fill="#4fc3b9" stroke="#4fc3b9" stroke-width="0.18" text-anchor="start" >V<tspan font-size="7" dy="1.3">L</tspan><tspan dy="-1.3"> in supernatant</tspan></text></svg>
</body></html>
